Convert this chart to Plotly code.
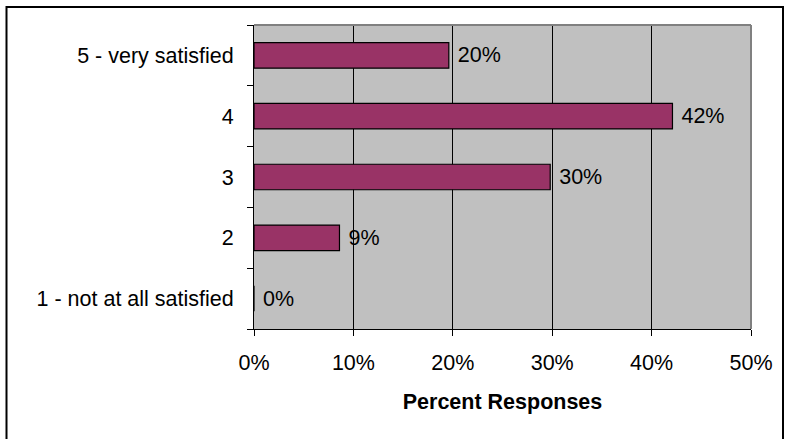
import plotly.graph_objects as go

categories = ["1 - not at all satisfied", "2", "3", "4", "5 - very satisfied"]
values = [0.0, 8.6, 29.8, 42.1, 19.6]
labels = ["0%", "9%", "30%", "42%", "20%"]
x_ticks = [0, 10, 20, 30, 40, 50]
x_tick_labels = ["0%", "10%", "20%", "30%", "40%", "50%"]

FONT = "Liberation Sans, Arial, sans-serif"
FS = 21.5

fig = go.Figure(go.Bar(
    x=values, y=categories, orientation="h",
    marker=dict(color="#993366", line=dict(color="black", width=1.2)),
    width=0.42,
    text=labels, texttemplate=" %{text}", textposition="outside", cliponaxis=False,
    textfont=dict(family=FONT, size=FS, color="black"),
))

fig.update_layout(
    width=785, height=439,
    margin=dict(l=254, r=34, t=25, b=110),
    paper_bgcolor="white", plot_bgcolor="#C0C0C0",
    font=dict(family=FONT, size=FS, color="black"),
    showlegend=False,
    xaxis=dict(
        range=[0, 50], tickvals=x_ticks, ticktext=x_tick_labels,
        showgrid=True, gridcolor="black", gridwidth=1,
        ticks="outside", ticklen=6, tickcolor="black",
        showline=True, linecolor="black", linewidth=1,
        zeroline=False,
        tickfont=dict(family=FONT, size=FS),
        ticklabelstandoff=8,
        title=dict(text="<b>Percent Responses</b>", font=dict(family=FONT, size=FS), standoff=20),
    ),
    yaxis=dict(
        categoryorder="array", categoryarray=categories,
        showgrid=False, ticks="outside", ticklen=6, tickcolor="black",
        tickson="boundaries",
        showline=True, linecolor="black", linewidth=1,
        tickfont=dict(family=FONT, size=FS),
        ticklabelstandoff=15,
    ),
    shapes=[
        dict(type="line", xref="paper", yref="paper", x0=0, x1=1, y0=1, y1=1,
             line=dict(color="#808080", width=2)),
        dict(type="line", xref="paper", yref="paper", x0=1, x1=1, y0=0, y1=1,
             line=dict(color="#808080", width=2)),
        dict(type="rect", xref="paper", yref="paper",
             x0=(6.5 - 254) / 497, x1=(783 - 254) / 497,
             y0=(329 - 445) / 304, y1=(329 - 7) / 304,
             line=dict(color="black", width=2), layer="below"),
    ],
)

fig.write_html("out.html")
